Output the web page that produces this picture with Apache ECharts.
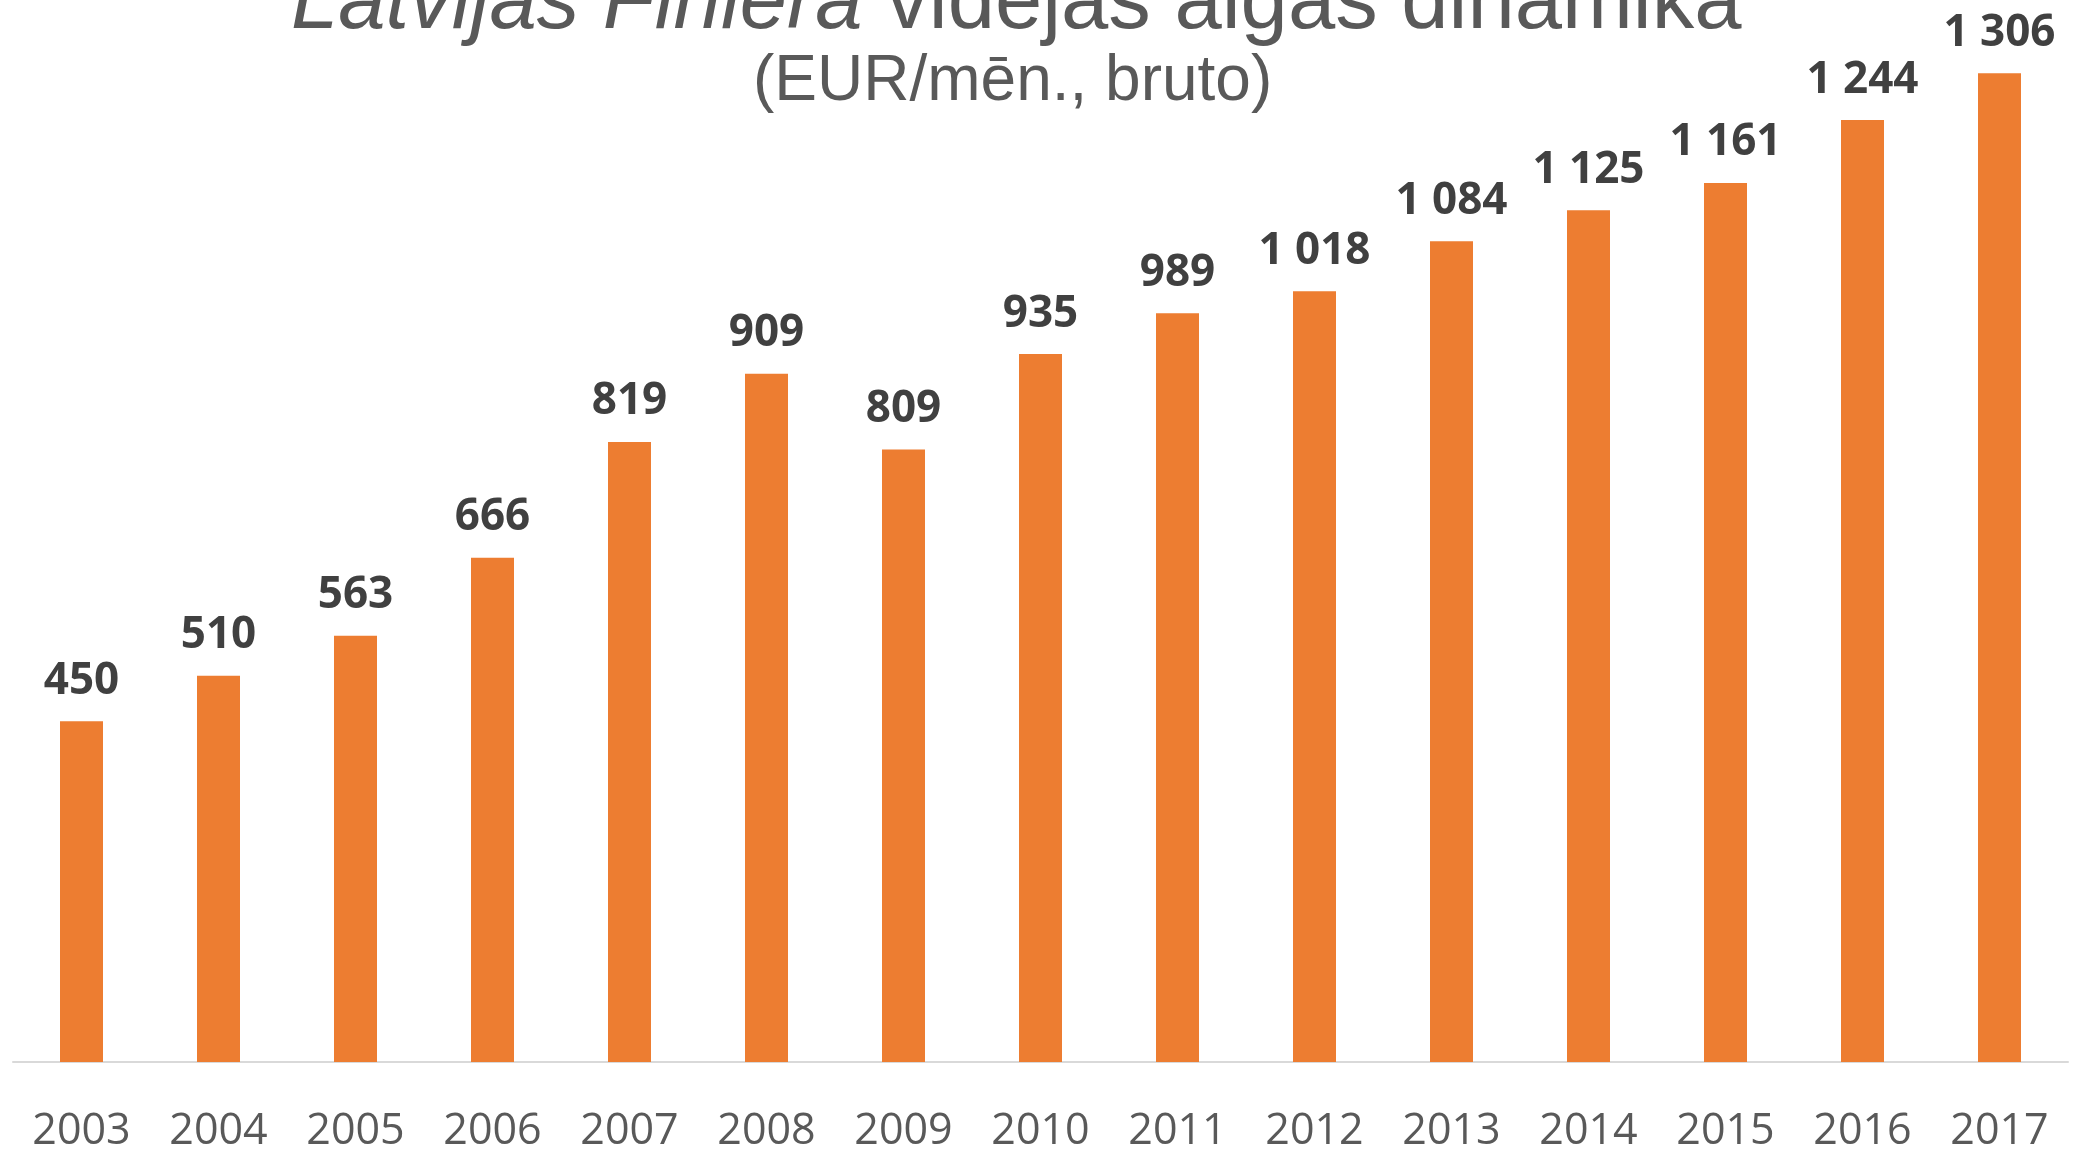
<!DOCTYPE html>
<html>
<head>
<meta charset="utf-8">
<script src="https://cdn.jsdelivr.net/npm/echarts@6/dist/echarts.min.js"></script>
<style>
  html, body { margin: 0; padding: 0; background: #fff; }
  #chart { width: 2083px; height: 1153px; }
</style>
</head>
<body>
<div id="chart"></div>
<script>
const years = ['2003', '2004', '2005', '2006', '2007', '2008', '2009', '2010',
  '2011', '2012', '2013', '2014', '2015', '2016', '2017'];
const salary = [450, 510, 563, 666, 819, 909, 809, 935, 989, 1018, 1084, 1125, 1161, 1244, 1306];

// 1306 -> "1 306"
function fmt(v) {
  return String(v).replace(/\B(?=(\d{3})+(?!\d))/g, ' ');
}

const chart = echarts.init(document.getElementById('chart'));
chart.setOption({
  animation: false,
  title: [
    {
      text: '{i|Latvijas Finiera} vidējās algas dinamika',
      left: 286,
      top: -43,
      textStyle: {
        fontFamily: 'Liberation Sans',
        fontSize: 85,
        fontWeight: 'normal',
        color: '#595959',
        rich: {
          i: {
            fontFamily: 'Liberation Sans',
            fontSize: 85,
            fontStyle: 'italic',
            color: '#595959'
          }
        }
      }
    },
    {
      text: '(EUR/mēn., bruto)',
      left: 748,
      top: 45,
      textStyle: {
        fontFamily: 'Liberation Sans',
        fontSize: 64,
        fontWeight: 'normal',
        color: '#595959'
      }
    }
  ],
  grid: {
    left: 13,
    right: 15,
    top: 2,
    bottom: 89,
    containLabel: false
  },
  xAxis: {
    type: 'category',
    data: years,
    axisTick: { show: false },
    axisLine: { lineStyle: { color: '#d9d9d9', width: 2 } },
    axisLabel: {
      margin: 48,
      fontFamily: 'Open Sans',
      fontSize: 43,
      color: '#595959'
    }
  },
  yAxis: {
    type: 'value',
    min: 0,
    max: 1400,
    show: false,
    splitLine: { show: false }
  },
  series: [{
    type: 'bar',
    data: salary,
    barWidth: 43,
    itemStyle: { color: '#ED7D31' },
    label: {
      show: true,
      position: 'top',
      distance: 18,
      fontFamily: 'Open Sans',
      fontWeight: 'bold',
      fontSize: 44,
      color: '#404040',
      formatter: p => fmt(p.value)
    }
  }]
});
</script>
</body>
</html>
